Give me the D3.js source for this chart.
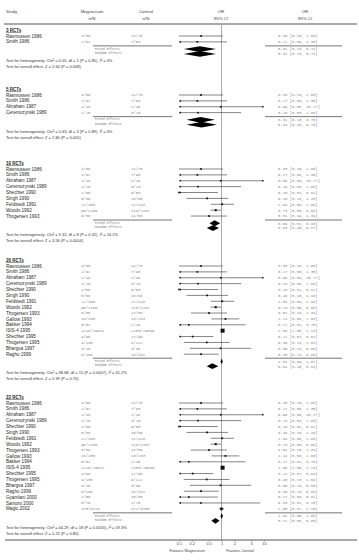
<!DOCTYPE html>
<html>
<head>
<meta charset="utf-8">
<script src="https://cdn.jsdelivr.net/npm/d3@7"></script>
<style>
  body { margin: 0; background: #fff; }
</style>
</head>
<body>
<div id="chart"></div>
<script>
// forest plot: magnesium vs control, cumulative groups of trials

const groupLabels = ["3 RCTs", "5 RCTs", "10 RCTs", "20 RCTs", "22 RCTs"];
// each group uses the first n studies of the list below
const groupSizes = [2, 4, 9, 16, 19];

const studies = ["Rasmussen 1986", "Smith 1986", "Abraham 1987", "Ceremuzynski 1989", "Shechter 1990",
  "Singh 1990", "Feldstedt 1991", "Woods 1992", "Thogersen 1993", "Gallow 1993", "Bakker 1994",
  "ISIS-4 1995", "Shechter 1995", "Thogersen 1995", "Bhargva 1997", "Raghu 1999", "Gyamlani 2000",
  "Santoro 2000", "Magic 2002"];
const magnesiumN = ["4/56", "2/92", "1/48", "1/25", "1/50", "5/66", "22/150", "90/1159", "8/56", "16/135",
  "0/51", "2216/29011", "4/96", "4/130", "3/40", "6/169", "2/50", "0/75", "475/3113"];
const controlN = ["14/76", "7/93", "1/46", "3/23", "9/53", "10/66", "21/148", "118/1157", "14/58", "13/133",
  "2/46", "2103/29039", "17/98", "8/122", "3/38", "18/181", "10/50", "1/75", "472/3100"];
const oddsRatio = [0.33, 0.27, 0.96, 0.28, 0.10, 0.46, 1.04, 0.73, 0.51, 1.24, 0.17, 1.06, 0.21, 0.45, 0.95, 0.33, 0.17, 0.33, 1.00];
const ciLow = [0.10, 0.06, 0.06, 0.03, 0.01, 0.15, 0.56, 0.55, 0.19, 0.58, 0.01, 1.00, 0.07, 0.13, 0.18, 0.13, 0.03, 0.01, 0.87];
const ciHigh = [1.08, 1.35, 15.77, 2.88, 0.82, 1.43, 1.98, 0.98, 1.34, 2.63, 3.70, 1.13, 0.64, 1.54, 5.00, 0.86, 0.82, 8.20, 1.15];

const fixedOR = [0.31, 0.32, 0.69, 1.01, 1.01];
const fixedLow = [0.13, 0.15, 0.52, 0.95, 0.95];
const fixedHigh = [0.74, 0.70, 0.93, 1.07, 1.08];
const randomOR = [0.31, 0.34, 0.63, 0.61, 0.72];
const randomLow = [0.13, 0.15, 0.45, 0.45, 0.58];
const randomHigh = [0.74, 0.78, 0.87, 0.84, 0.90];

const heterogeneity = [
  "Test for heterogeneity: Chi² = 0.05, df = 1 (P = 0.85), I² = 0%",
  "Test for heterogeneity: Chi² = 0.63, df = 3 (P = 0.89), I² = 0%",
  "Test for heterogeneity: Chi² = 9.32, df = 8 (P = 0.32), I² = 14.2%",
  "Test for heterogeneity: Chi² = 38.68, df = 15 (P = 0.0007), I² = 61.2%",
  "Test for heterogeneity: Chi² = 44.29, df = 18 (P = 0.0005), I² = 59.3%"];
const overallEffect = [
  "Test for overall effect: Z = 2.64 (P = 0.008)",
  "Test for overall effect: Z = 2.80 (P = 0.005)",
  "Test for overall effect: Z = 3.56 (P = 0.0004)",
  "Test for overall effect: Z = 0.39 (P = 0.70)",
  "Test for overall effect: Z = 0.25 (P = 0.80)"];

const tickValues = [0.1, 0.2, 0.5, 1, 2, 5, 10];

const width = 359, height = 560;
const groupTop = [30, 89, 163, 260, 397];
const rowStep = 5.88;
const sans = "'Liberation Sans', Arial, sans-serif";
const mono = "'Liberation Mono', 'Courier New', monospace";
const fmt = d3.format(".2f");
const ciText = (o, l, h) => `${fmt(o)} [${fmt(l)}, ${fmt(h)}]`;

const svg = d3.select("#chart")
  .append("svg")
    .attr("width", width)
    .attr("height", height)
    .attr("font-family", sans);

const x = d3.scaleLog()
    .domain([0.1, 10])
    .range([179, 264]);
const clip = v => Math.max(0.1, Math.min(10, v));

// study weight (inverse variance) -> box size
const weight = studies.map((s, i) => {
  const se = (Math.log(ciHigh[i]) - Math.log(ciLow[i])) / 3.92;
  return 1 / (se * se);
});
const maxWeight = d3.max(weight);
const boxSize = i => 1.6 + 2.4 * Math.sqrt(weight[i] / maxWeight);

// header
const header = svg.append("g").attr("fill", "#444").attr("font-size", 4.4);
header.append("text").attr("x", 6).attr("y", 13).text("Study");
[[92, "Magnesium"], [146, "Control"], [221, "OR"], [305, "OR"]].forEach(([cx, t]) =>
  header.append("text").attr("x", cx).attr("y", 13).attr("text-anchor", "middle").text(t));
[[92, "n/N"], [146, "n/N"], [221, "95% CI"], [305, "95% CI"]].forEach(([cx, t]) =>
  header.append("text").attr("x", cx).attr("y", 19.5).attr("text-anchor", "middle").text(t));

svg.append("line")
    .attr("x1", 4).attr("x2", 357)
    .attr("y1", 24).attr("y2", 24)
    .attr("stroke", "#555")
    .attr("stroke-width", 1.2);

// line of no effect
svg.append("line")
    .attr("x1", x(1)).attr("x2", x(1))
    .attr("y1", 24).attr("y2", 540)
    .attr("stroke", "#aaa")
    .attr("stroke-width", 1);

groupLabels.forEach((label, g) => {
  const top = groupTop[g];
  const n = groupSizes[g];
  const rowY = i => top + 6 + i * rowStep;
  const last = rowY(n - 1);
  const gg = svg.append("g");

  gg.append("text")
      .attr("x", 6).attr("y", top)
      .attr("dy", "0.35em")
      .attr("font-size", 4.5)
      .attr("font-weight", "bold")
      .attr("text-decoration", "underline")
      .attr("fill", "#222")
      .text(label);

  const idx = d3.range(n);

  gg.append("g")
      .attr("font-size", 4.6)
      .attr("fill", "#2a2a2a")
    .selectAll("text")
    .data(idx)
    .join("text")
      .attr("x", 6)
      .attr("y", rowY)
      .attr("dy", "0.35em")
      .text(i => studies[i]);

  const monoCol = (xx, f) => gg.append("g")
      .attr("font-family", mono)
      .attr("font-size", 3.9)
      .attr("fill", "#888")
    .selectAll("text")
    .data(idx)
    .join("text")
      .attr("x", xx)
      .attr("y", rowY)
      .attr("dy", "0.35em")
      .text(f);
  monoCol(81, i => magnesiumN[i]);
  monoCol(131, i => controlN[i]);
  monoCol(278, i => ciText(oddsRatio[i], ciLow[i], ciHigh[i]));

  // confidence intervals
  gg.append("g")
    .selectAll("line")
    .data(idx)
    .join("line")
      .attr("x1", i => x(clip(ciLow[i])))
      .attr("x2", i => x(clip(ciHigh[i])))
      .attr("y1", rowY).attr("y2", rowY)
      .attr("stroke", "#333")
      .attr("stroke-width", 0.6);

  // arrows where the interval runs off the scale
  gg.append("g")
    .selectAll("path")
    .data(idx.filter(i => ciLow[i] < 0.1))
    .join("path")
      .attr("d", i => `M${x(0.1)},${rowY(i)}l2,-1.1v2.2z`)
      .attr("fill", "#222");
  gg.append("g")
    .selectAll("path")
    .data(idx.filter(i => ciHigh[i] > 10))
    .join("path")
      .attr("d", i => `M${x(10)},${rowY(i)}l-2,-1.1v2.2z`)
      .attr("fill", "#222");

  gg.append("g")
    .selectAll("rect")
    .data(idx)
    .join("rect")
      .attr("x", i => x(oddsRatio[i]) - boxSize(i) / 2)
      .attr("y", i => rowY(i) - boxSize(i) / 2)
      .attr("width", boxSize)
      .attr("height", boxSize)
      .attr("fill", "#111");

  // separators above the pooled results
  [[93, 172], [265, 342]].forEach(([a, b]) =>
    gg.append("line")
        .attr("x1", a).attr("x2", b)
        .attr("y1", last + 4).attr("y2", last + 4)
        .attr("stroke", "#666")
        .attr("stroke-width", 0.9));

  const pooled = [
    {name: "Fixed Effects", y: last + 7.2, o: fixedOR[g], l: fixedLow[g], h: fixedHigh[g]},
    {name: "Random Effects", y: last + 12, o: randomOR[g], l: randomLow[g], h: randomHigh[g]}
  ];

  gg.append("g")
      .attr("font-family", mono)
      .attr("font-size", 3.2)
      .attr("fill", "#777")
    .selectAll("text")
    .data(pooled)
    .join("text")
      .attr("x", 95)
      .attr("y", (d, k) => d.y - 0.6 + k * -0.4)
      .attr("dy", "0.35em")
      .text(d => d.name);

  gg.append("g")
      .attr("font-family", mono)
      .attr("font-size", 3.9)
      .attr("fill", "#888")
    .selectAll("text")
    .data(pooled)
    .join("text")
      .attr("x", 278)
      .attr("y", d => d.y)
      .attr("dy", "0.35em")
      .text(d => ciText(d.o, d.l, d.h));

  gg.append("g")
    .selectAll("path")
    .data(pooled)
    .join("path")
      .attr("d", d => `M${x(d.l)},${d.y}L${x(d.o)},${d.y - 2.9}L${x(d.h)},${d.y}L${x(d.o)},${d.y + 2.9}Z`)
      .attr("fill", "#000");

  gg.append("text")
      .attr("x", 6).attr("y", last + 18.5)
      .attr("dy", "0.35em")
      .attr("font-size", 4.0)
      .attr("fill", "#333")
      .text(heterogeneity[g]);
  gg.append("text")
      .attr("x", 6).attr("y", last + 24.5)
      .attr("dy", "0.35em")
      .attr("font-size", 4.0)
      .attr("fill", "#333")
      .text(overallEffect[g]);
});

// bottom axis
svg.append("line")
    .attr("x1", 5).attr("x2", 357)
    .attr("y1", 540).attr("y2", 540)
    .attr("stroke", "#555")
    .attr("stroke-width", 1);

const axis = svg.append("g")
    .attr("transform", "translate(0,540)")
    .call(d3.axisBottom(x).tickValues(tickValues).tickSize(1.5).tickPadding(1).tickFormat(d => d));
axis.select(".domain").remove();
axis.selectAll("text").attr("font-size", 3.9).attr("font-family", sans).attr("fill", "#444");
axis.selectAll("line").attr("stroke", "#555").attr("stroke-width", 0.5);

svg.append("text")
    .attr("x", 187).attr("y", 552)
    .attr("text-anchor", "middle")
    .attr("font-size", 3.9)
    .attr("fill", "#444")
    .text("Favours Magnesium");
svg.append("text")
    .attr("x", 240).attr("y", 552)
    .attr("text-anchor", "middle")
    .attr("font-size", 3.9)
    .attr("fill", "#444")
    .text("Favours Control");
</script>
</body>
</html>
